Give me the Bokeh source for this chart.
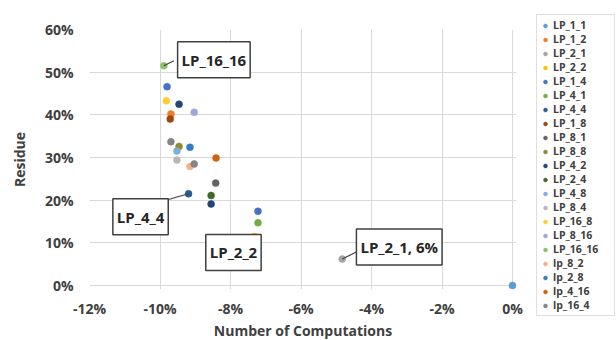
from bokeh.plotting import figure
from bokeh.models import Range1d, FixedTicker, PrintfTickFormatter, Legend, LegendItem, Label
from bokeh.embed import file_html
from bokeh.resources import INLINE

# ---- data (percent units) ----
series = ["LP_1_1", "LP_1_2", "LP_2_1", "LP_2_2", "LP_1_4", "LP_4_1", "LP_4_4",
          "LP_1_8", "LP_8_1", "LP_8_8", "LP_4_2", "LP_2_4", "LP_4_8", "LP_8_4",
          "LP_16_8", "LP_8_16", "LP_16_16", "lp_8_2", "lp_2_8", "lp_4_16", "lp_16_4"]
x_vals = [[0.0], [-9.69], [-4.83], [-7.32], [-9.80, -7.22], [-7.22], [-9.19],
          [-9.71], [-8.42], [-9.46], [-8.55, -9.46], [-8.55], [-9.52], [-9.52],
          [-9.82], [-9.03], [-9.89], [-9.15], [-9.15], [-8.41], [-9.69, -9.03]]
y_vals = [[0.0], [40.2], [6.2], [11.5], [46.6, 17.4], [14.7], [21.5],
          [39.0], [24.0], [32.6], [19.1, 42.5], [21.1], [31.5], [29.4],
          [43.3], [40.6], [51.5], [27.9], [32.4], [29.9], [33.7, 28.5]]
x_ticks = [-12, -10, -8, -6, -4, -2, 0]
y_ticks = [0, 10, 20, 30, 40, 50, 60]
callout_series = ["LP_16_16", "LP_4_4", "LP_2_2", "LP_2_1"]
callout_texts = ["LP_16_16", "LP_4_4", "LP_2_2", "LP_2_1, 6%"]

# ---- styles ----
colors = ["#5B9BD5", "#ED7D31", "#A5A5A5", "#FFC000", "#4472C4", "#70AD47", "#255E91",
          "#9E480E", "#636363", "#8C8C2A", "#264478", "#43682B", "#7CAFDD", "#B7B7B7",
          "#FFCD33", "#9AA9D6", "#8CC168", "#F4B183", "#327DC2", "#D26012", "#848484"]
# (box centre dx, dy, leader end dx, dy) in pixels, y up
callout_offsets = [(50, 6, 10, 5), (-48, -23, -35, -10), (-21, -16, 0, 0), (57, 12, 14, 7)]
FONT = "Open Sans"
TXT = "#404040"

PX_X, PX_Y = 35.25, 256 / 60          # pixels per percent
PAD_R, PAD_B = 4, 4                   # small room so edge markers are not clipped
FW, FH = 423 + PAD_R, 256 + PAD_B
p = figure(width=615, height=336, output_backend="svg", toolbar_location=None,
           x_range=Range1d(x_ticks[0], x_ticks[-1] + PAD_R / PX_X),
           y_range=Range1d(y_ticks[0] - PAD_B / PX_Y, y_ticks[-1]),
           frame_width=FW, frame_height=FH,
           min_border_left=89, min_border_right=99, min_border_top=29, min_border_bottom=47)
p.outline_line_color = None
p.background_fill_color = "white"

for ax, ticks in ((p.xaxis, x_ticks), (p.yaxis, y_ticks)):
    ax.ticker = FixedTicker(ticks=ticks)
    ax.formatter = PrintfTickFormatter(format="%d%%")
    ax.axis_line_color = None
    ax.major_tick_line_color = None
    ax.minor_tick_line_color = None
    ax.major_tick_in = 0
    ax.major_tick_out = 0
    ax.major_label_text_font = FONT
    ax.major_label_text_font_style = "bold"
    ax.major_label_text_font_size = "14px"
    ax.major_label_text_color = TXT
    ax.axis_label_text_font = FONT
    ax.axis_label_text_font_style = "bold"
    ax.axis_label_text_font_size = "14px"
    ax.axis_label_text_color = TXT

p.xaxis.axis_label = "Number of Computations"
p.yaxis.axis_label = "Residue"
p.xaxis.major_label_standoff = 9
p.xaxis.axis_label_standoff = 0
p.yaxis.major_label_standoff = 16
p.yaxis.axis_label_standoff = 13

p.xgrid.ticker = FixedTicker(ticks=x_ticks)
p.ygrid.ticker = FixedTicker(ticks=y_ticks)
p.xgrid.grid_line_color = "#D9D9D9"
p.ygrid.grid_line_color = "#D9D9D9"

items = []
for name, xs, ys, c in zip(series, x_vals, y_vals, colors):
    r = p.scatter(xs, ys, size=7, fill_color=c, line_color=c, line_width=0.5)
    items.append(LegendItem(label=name, renderers=[r]))

for s, t, (bx, by, lx, ly) in zip(callout_series, callout_texts, callout_offsets):
    i = series.index(s)
    px, py = x_vals[i][0], y_vals[i][0]
    if lx or ly:
        p.segment(x0=[px], y0=[py], x1=[px + lx / PX_X], y1=[py + ly / PX_Y],
                  line_color="#404040", line_width=1.2)
    p.add_layout(Label(x=px, y=py, x_offset=bx, y_offset=by, text=t,
                       text_align="center", text_baseline="middle",
                       text_font=FONT, text_font_style="bold", text_font_size="15px",
                       text_color="#262626", background_fill_color="white",
                       border_line_color="#404040", border_line_width=1.5, padding=(4, 8)))

legend = Legend(items=items, location=(20, -27))
legend.label_text_font = FONT
legend.label_text_font_style = "bold"
legend.label_text_font_size = "10.5px"
legend.label_text_color = TXT
legend.label_height = 13
legend.label_width = 58
legend.glyph_height = 13
legend.glyph_width = 10
legend.label_standoff = 3
legend.spacing = 0
legend.padding = 3
legend.margin = 0
legend.border_line_color = "#BFBFBF"
legend.border_line_width = 1
p.add_layout(legend, "right")

open("out.html", "w").write(file_html(p, INLINE))
